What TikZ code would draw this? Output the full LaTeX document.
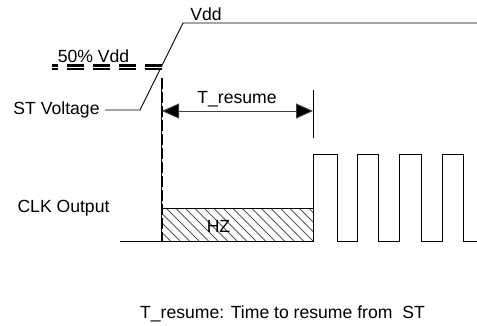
\documentclass[tikz,border=0pt]{standalone}
\usepackage{fontspec}
\setmainfont{Liberation Sans}
\usetikzlibrary{arrows.meta}
\begin{document}
\begin{tikzpicture}[x=1pt,y=-1pt,
  font=\fontsize{17.6}{20}\selectfont,
  wire/.style={line width=0.9pt, black},
  lbl/.style={inner sep=0pt, anchor=base},
  hatch/.style={line width=0.8pt, black!65},
  halfline/.style={line width=2.2pt, double=white, double distance=0.9pt, dash pattern=on 17pt off 9pt},
  bigarrow/.style={line width=0.9pt, black!75, {Triangle[length=17pt,width=15pt,fill=black]}-{Triangle[length=17pt,width=15pt,fill=black]}}]
\useasboundingbox (0,0) rectangle (477,326);
% named coordinates
\coordinate (vddEnd) at (477,23);
\coordinate (rampTop) at (183,23);
\coordinate (rampBot) at (140,110);
\coordinate (stEnd) at (105,110);
\coordinate (halfR) at (162,67);
\coordinate (halfL) at (52,67);
\coordinate (markTop) at (161.5,78);
\coordinate (markBot) at (161.5,241);
\coordinate (arrL) at (162,111);
\coordinate (arrR) at (313,111);
\coordinate (tickTop) at (313,90);
\coordinate (tickBot) at (313,138);
\coordinate (hzTL) at (161.5,208);
\coordinate (hzTR) at (313,208);
\coordinate (hzBR) at (313,241);
% labels
\node[lbl] (vdd) at (206,21) {Vdd};
\node[lbl] (half) at (93.5,63) {50\% Vdd};
\node[lbl] (stv) at (56.5,114.5) {ST Voltage};
\node[lbl] (clk) at (63.5,212) {CLK Output};
\node[lbl] (tres) at (237,103.3) {T\_resume};
% hatch
\begin{scope}
  \clip (hzTL) rectangle (hzBR);
  \foreach \i in {0,...,20} \draw[hatch] (128+\i*9.5,208) -- ++(33,33);
\end{scope}
\node[lbl] (hz) at (218.5,233) {HZ};
\node[lbl] (note) at (282.5,318) {T\_resume: Time to resume from\ \ ST};
% supply ramp
\draw[wire] (vddEnd) -- (rampTop) -- (rampBot) -- (stEnd);
% 50% line
\draw[halfline] (halfR) -- (halfL);
% marker line
\draw[line width=0.8pt] (markTop) -- (markBot);
\draw[line width=2pt, dash pattern=on 11pt off 3pt] (markTop) -- (markBot);
% T_resume arrow
\draw[bigarrow] (arrL) -- (arrR);
\draw[wire] (tickTop) -- (tickBot);
% HZ box top
\draw[wire] (hzTL) -- (hzTR);
% clock
\draw[wire] (120,241) -- (hzBR) -- (313,154) -- (337,154) -- (337,241) -- (357,241) -- (357,154) -- (378,154) -- (378,241) -- (399,241) -- (399,154) -- (421,154) -- (421,241) -- (442,241) -- (442,154) -- (463,154) -- (463,241) -- (477,241);
\end{tikzpicture}
\end{document}
